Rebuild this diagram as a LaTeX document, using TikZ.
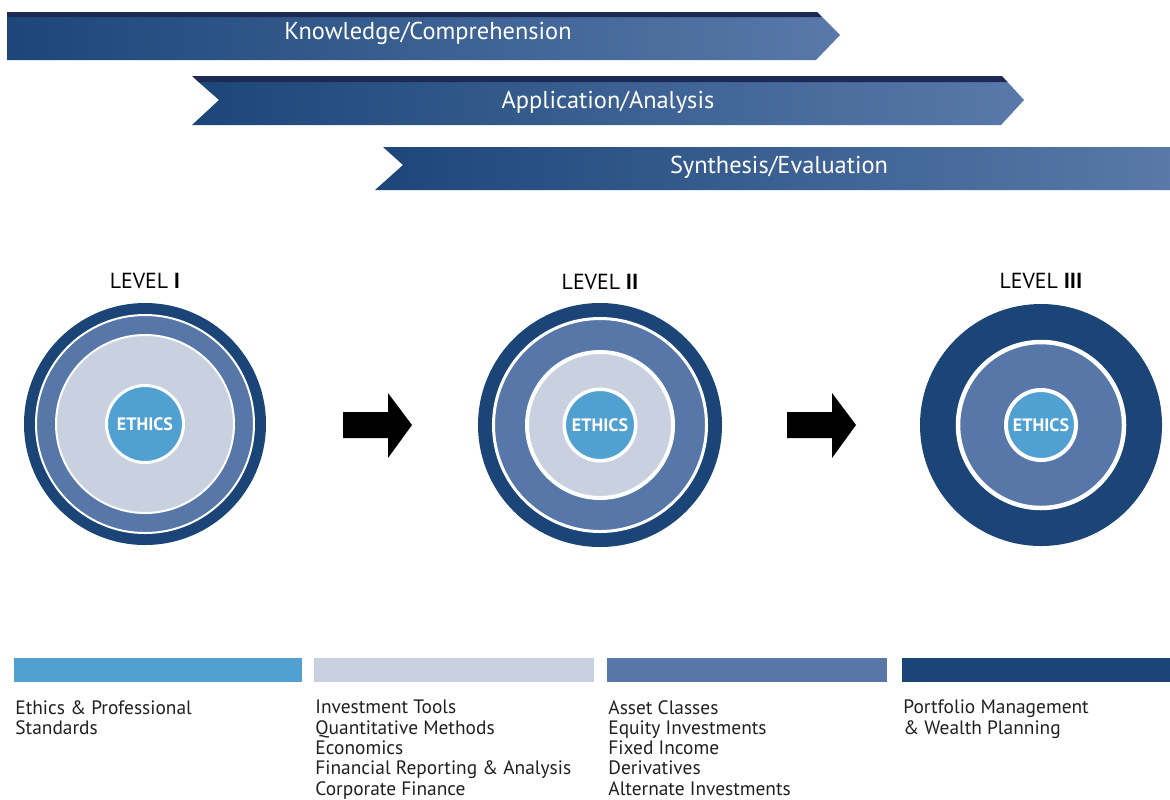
\documentclass[tikz,border=0pt]{standalone}
\usepackage{fontspec}
\setmainfont{PT Sans}
\usetikzlibrary{positioning}
\definecolor{navy}{HTML}{1B4577}
\definecolor{midblue}{HTML}{5677A8}
\definecolor{pale}{HTML}{C9D1E1}
\definecolor{ethblue}{HTML}{50A1D1}
\definecolor{stripe}{HTML}{1C2A55}
\definecolor{banL}{HTML}{1D4678}
\definecolor{banR}{HTML}{5879AA}
\definecolor{ink}{HTML}{231F20}
\tikzset{disc/.style={circle, inner sep=0pt, draw=white}}
\tikzset{eth/.style={text=white, font=\bfseries\fontsize{9}{9}\selectfont}}
\tikzset{bantxt/.style={text=white, inner sep=0pt, anchor=base, font=\fontsize{12.2}{14}\selectfont}}
\tikzset{lvl/.style={inner sep=0pt, text=black, font=\fontsize{10.9}{12}\selectfont}}
\tikzset{bar/.style={minimum height=12pt, inner sep=0pt, anchor=north west}}
\tikzset{topic/.style={align=left, inner sep=0pt, text=ink, font=\fontsize{9.7}{10.15}\selectfont}}
\tikzset{blockarrow/.pic={\fill (0,-13) -- (45,-13) -- (45,-32) -- (69,0) -- (45,33) -- (45,13) -- (0,13) -- cycle;}}

\begin{document}
\begin{tikzpicture}[x=0.5pt, y=-0.5pt]
    \useasboundingbox (0,0) rectangle (1170,799);

    % banners
    \shade[left color=banL, right color=banR] (7,17) -- (822,17) -- (840,35) -- (816,60) -- (7,60) -- cycle;
    \fill[stripe] (7,12) -- (817,12) -- (822,17) -- (7,17) -- cycle;
    \shade[left color=banL, right color=banR] (198.5,82) -- (1007.5,82) -- (1024,100) -- (1001,125) -- (192,125) -- (219,100) -- cycle;
    \fill[stripe] (192,76) -- (1002,76) -- (1007.5,82) -- (198.5,82) -- cycle;
    \shade[left color=banL, right color=banR] (383,147) -- (1170,147) -- (1170,190) -- (375,190) -- (403,165) -- cycle;

    \node[bantxt] (know) at (428,39) {Knowledge/Comprehension};
    \node[bantxt] (appl) at (608,108) {Application/Analysis};
    \node[bantxt] (synt) at (779,173) {Synthesis/Evaluation};

    % level I
    \node[disc, draw=none, fill=navy, minimum size=121pt] (c1) at (145,424) {};
    \node[disc, fill=midblue, line width=1pt, minimum size=109pt] (c1m) at (c1) {};
    \node[disc, fill=pale, line width=1pt, minimum size=89pt] (c1p) at (c1) {};
    \node[disc, eth, fill=ethblue, line width=1.5pt, minimum size=38.5pt] (c1e) at (c1) {ETHICS};
    \node[lvl, above=6.5pt of c1] (lab1) {LEVEL \textbf{I}};

    % level II
    \node[disc, draw=none, fill=navy, minimum size=122pt] (c2) at (600,425) {};
    \node[disc, fill=midblue, line width=1.5pt, minimum size=106.5pt] (c2m) at (c2) {};
    \node[disc, fill=pale, line width=2pt, minimum size=73pt] (c2p) at (c2) {};
    \node[disc, eth, fill=ethblue, line width=1.75pt, minimum size=35.75pt] (c2e) at (c2) {ETHICS};
    \node[lvl, above=6pt of c2] (lab2) {LEVEL \textbf{II}};

    % level III
    \node[disc, draw=none, fill=navy, minimum size=121pt] (c3) at (1041,425) {};
    \node[disc, fill=midblue, line width=2.25pt, minimum size=83pt] (c3m) at (c3) {};
    \node[disc, eth, fill=ethblue, line width=2pt, minimum size=35pt] (c3e) at (c3) {ETHICS};
    \node[lvl, above=7pt of c3] (lab3) {LEVEL \textbf{III}};

    \pic at (343,425) {blockarrow};
    \pic at (787,425) {blockarrow};

    % legend
    \node[bar, fill=ethblue, minimum width=144pt] (b1) at (14,658) {};
    \node[bar, fill=pale, minimum width=140pt] (b2) at (314,658) {};
    \node[bar, fill=midblue, minimum width=140pt] (b3) at (607,658) {};
    \node[bar, fill=navy, minimum width=134pt] (b4) at (902,658) {};

    \node[topic, below right=8.5pt and 0.5pt of b1.south west] (d1) {Ethics \& Professional\\Standards};
    \node[topic, below right=8.5pt and 0.5pt of b2.south west] (d2) {Investment Tools\\Quantitative Methods\\Economics\\Financial Reporting \& Analysis\\Corporate Finance};
    \node[topic, below right=8.5pt and 0.5pt of b3.south west] (d3) {Asset Classes\\Equity Investments\\Fixed Income\\Derivatives\\Alternate Investments};
    \node[topic, below right=8.5pt and 0.5pt of b4.south west] (d4) {Portfolio Management\\\& Wealth Planning};
\end{tikzpicture}
\end{document}
